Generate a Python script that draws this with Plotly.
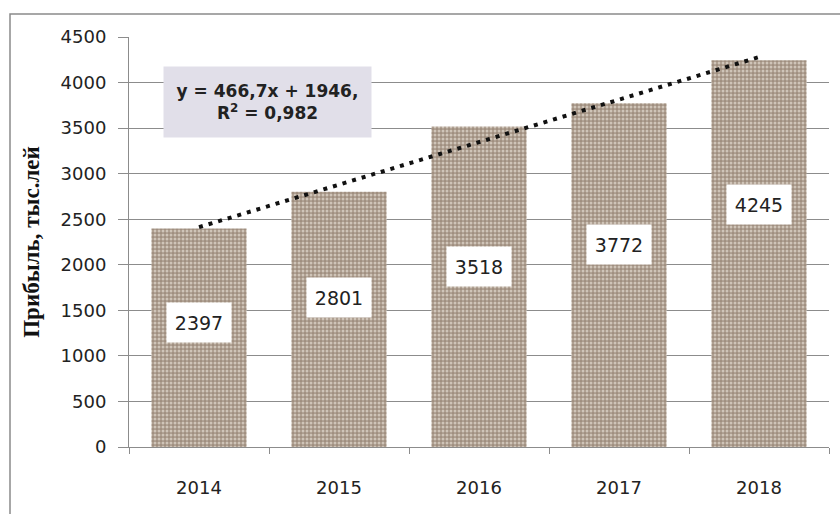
import plotly.graph_objects as go

# Profit by year, thousand lei
years = ["2014", "2015", "2016", "2017", "2018"]
profit = [2397, 2801, 3518, 3772, 4245]

# Linear trend stated on the chart
trend_slope = 466.7
trend_intercept = 1946
trend_r2 = 0.982

y_ticks = [0, 500, 1000, 1500, 2000, 2500, 3000, 3500, 4000, 4500]

# vertical placement of each value box, as a share of its bar height
label_share = [0.572, 0.584, 0.562, 0.588, 0.626]

trend_y = [trend_slope * (i + 1) + trend_intercept for i in range(len(years))]

fig = go.Figure()

# stone-textured bars
fig.add_trace(go.Bar(
    x=years,
    y=profit,
    marker=dict(
        color="#a59686",
        line=dict(width=0),
        pattern=dict(shape=".", fgcolor="#cfc4b8", bgcolor="#a08f80",
                     size=4, solidity=0.45, fillmode="replace"),
    ),
    hoverinfo="x+y",
    showlegend=False,
))

fig.add_trace(go.Scatter(
    x=years,
    y=trend_y,
    mode="lines",
    line=dict(color="#111111", width=4, dash="4px,6px"),
    hoverinfo="skip",
    showlegend=False,
))

# value boxes on the bars (category index positions)
for i, (v, s) in enumerate(zip(profit, label_share)):
    fig.add_annotation(
        x=i, y=v * s, xref="x", yref="y",
        text=str(v), showarrow=False,
        font=dict(family="DejaVu Sans", size=19, color="#222222"),
        bgcolor="white", width=62, height=37,
    )

# trend equation
fig.add_annotation(
    x=0.198, y=0.841, xref="paper", yref="paper",
    xanchor="center", yanchor="middle",
    text=f"y = {str(trend_slope).replace('.', ',')}x + {trend_intercept},<br>"
         f"R<sup>2</sup> = {str(trend_r2).replace('.', ',')}",
    showarrow=False,
    font=dict(family="DejaVu Sans", size=17, color="#222222", weight="bold"),
    bgcolor="#e1dfe9", width=205, height=68,
)

# outer chart frame
fig.add_shape(
    type="rect", xref="paper", yref="paper",
    x0=-0.17, x1=1.06, y0=-0.3, y1=1.056,
    line=dict(color="#8a8a8a", width=1.5), fillcolor="rgba(0,0,0,0)",
    layer="below",
)

fig.update_layout(
    width=840, height=514,
    margin=dict(l=129, r=11, t=37, b=67),
    paper_bgcolor="white",
    plot_bgcolor="white",
    bargap=0.32,
    font=dict(family="DejaVu Sans", color="#222222"),
    xaxis=dict(
        type="category",
        categoryorder="array", categoryarray=years,
        range=[-0.5, len(years) - 0.5],
        autorange=False,
        showgrid=False,
        showline=True, linecolor="#8c8c8c", linewidth=1,
        ticks="outside", tickson="boundaries", ticklen=6, tickcolor="#8c8c8c",
        tickfont=dict(family="DejaVu Sans", size=18, color="#222222"),
        tickangle=0,
        ticklabelstandoff=24,
    ),
    yaxis=dict(
        range=[0, 4500],
        autorange=False,
        tickvals=y_ticks,
        showgrid=True, gridcolor="#8c8c8c", gridwidth=1,
        showline=True, linecolor="#8c8c8c", linewidth=1,
        ticks="outside", ticklen=10, tickcolor="#8c8c8c",
        tickfont=dict(family="DejaVu Sans", size=18, color="#222222"),
        ticklabelstandoff=8,
        zeroline=False,
        title=dict(
            text="Прибыль, тыс.лей",
            font=dict(family="Liberation Serif", size=23, color="#111111",
                      weight="bold"),
            standoff=14,
        ),
    ),
)

fig.write_html("out.html")
